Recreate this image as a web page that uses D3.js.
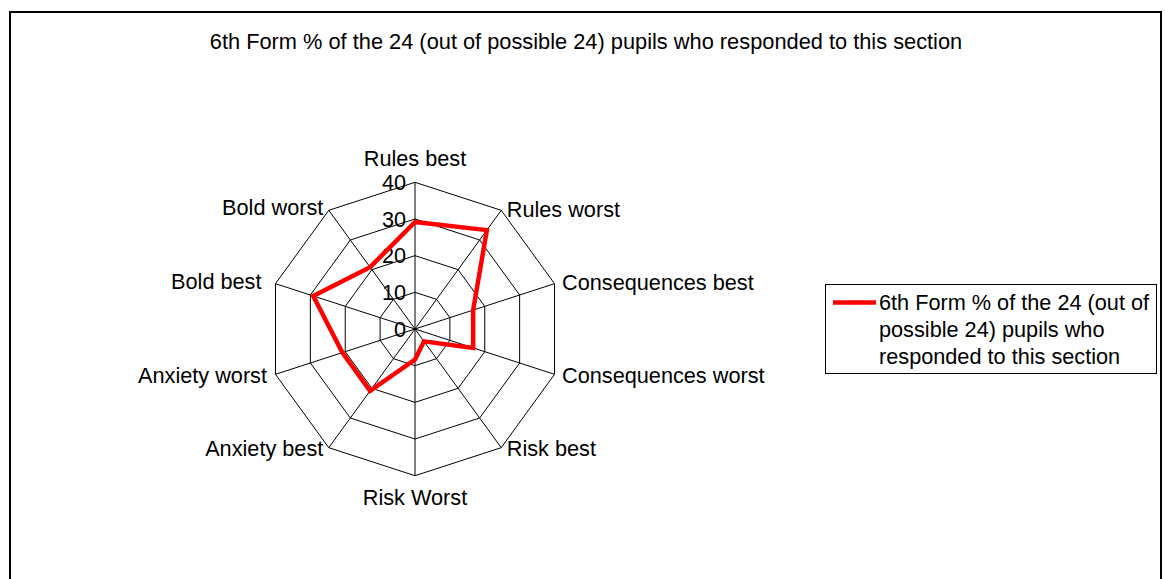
<!DOCTYPE html>
<html>
<head>
<meta charset="utf-8">
<script src="https://d3js.org/d3.v7.min.js"></script>
<style>
  html, body { margin: 0; padding: 0; background: #fff; }
  svg text { font-family: "Liberation Sans", Arial, sans-serif; fill: #000; }
</style>
</head>
<body>
<svg id="chart" width="1165" height="579"></svg>
<script>
// ---- Data ----
const categories = ["Rules best", "Rules worst", "Consequences best", "Consequences worst",
  "Risk best", "Risk Worst", "Anxiety best", "Anxiety worst", "Bold best", "Bold worst"];
const seriesName = "6th Form % of the 24 (out of possible 24) pupils who responded to this section";
const values = [29.17, 33.33, 16.67, 16.67, 4.17, 8.33, 20.83, 20.83, 29.17, 20.83];
const tickValues = [0, 10, 20, 30, 40];
const titleText = "6th Form % of the 24 (out of possible 24) pupils who responded to this section";
const legendLines = ["6th Form % of the 24 (out of", "possible 24) pupils who", "responded to this section"];

// ---- Layout ----
const svg = d3.select("#chart");
const W = 1165, H = 579;
const cx = 415, cy = 329, R = 146.7;
const fontSize = 21.7;
// horizontal / vertical nudges of the category labels, by position around the web
const labelDx = [0, 5.5, 7.5, 7.5, 5.5, 0, -5.5, -8.5, -14, -5.5];
const labelDy = [-24, -1, -1, 1, 1, 21, 1, 1, -2, -3];

svg.append("rect").attr("x", 0).attr("y", 0).attr("width", W).attr("height", H).attr("fill", "#fff");
svg.append("rect").attr("x", 10).attr("y", 12).attr("width", 1151).attr("height", 700)
  .attr("fill", "none").attr("stroke", "#000").attr("stroke-width", 2);

svg.append("text").attr("x", 586).attr("y", 49).attr("text-anchor", "middle")
  .attr("font-size", 21.8).text(titleText);

const r = d3.scaleLinear().domain([0, 40]).range([0, R]);
const angle = d3.scalePoint().domain(categories).range([0, 2 * Math.PI * (categories.length - 1) / categories.length]);

const g = svg.append("g").attr("transform", `translate(${cx},${cy})`);
const pt = (cat, v) => {
  const a = angle(cat);
  return [r(v) * Math.sin(a), -r(v) * Math.cos(a)];
};

// rings
tickValues.filter(t => t > 0).forEach(t => {
  g.append("path")
    .attr("d", d3.line()(categories.map(c => pt(c, t))) + "Z")
    .attr("fill", "none").attr("stroke", "#000").attr("stroke-width", 1);
});
// spokes
categories.forEach(c => {
  const p = pt(c, 40);
  g.append("line").attr("x1", 0).attr("y1", 0).attr("x2", p[0]).attr("y2", p[1])
    .attr("stroke", "#000").attr("stroke-width", 1);
});
// tick labels
tickValues.forEach(t => {
  g.append("text").attr("x", -9).attr("y", -r(t)).attr("dy", "0.36em")
    .attr("text-anchor", "end").attr("font-size", fontSize).text(t);
});
// category labels
categories.forEach((c, i) => {
  const a = angle(c);
  const p = pt(c, 40);
  const s = Math.sin(a);
  const anchor = s > 0.01 ? "start" : (s < -0.01 ? "end" : "middle");
  g.append("text").attr("x", p[0] + labelDx[i]).attr("y", p[1] + labelDy[i]).attr("dy", "0.36em")
    .attr("text-anchor", anchor).attr("font-size", fontSize).text(c);
});

// series
g.append("path")
  .datum(categories.map((c, i) => pt(c, values[i])))
  .attr("d", d => d3.line()(d) + "Z")
  .attr("fill", "none").attr("stroke", "#ff0000").attr("stroke-width", 4.5)
  .attr("stroke-linejoin", "miter");

// legend
const lg = svg.append("g");
lg.append("rect").attr("x", 825.5).attr("y", 284.5).attr("width", 331).attr("height", 89)
  .attr("fill", "#fff").attr("stroke", "#000").attr("stroke-width", 1);
lg.append("line").attr("x1", 833).attr("x2", 876).attr("y1", 302.5).attr("y2", 302.5)
  .attr("stroke", "#ff0000").attr("stroke-width", 4.5);
legendLines.forEach((l, i) => {
  lg.append("text").attr("x", 879).attr("y", 302.5 + i * 27).attr("dy", "0.36em")
    .attr("font-size", fontSize).text(l);
});
</script>
</body>
</html>
